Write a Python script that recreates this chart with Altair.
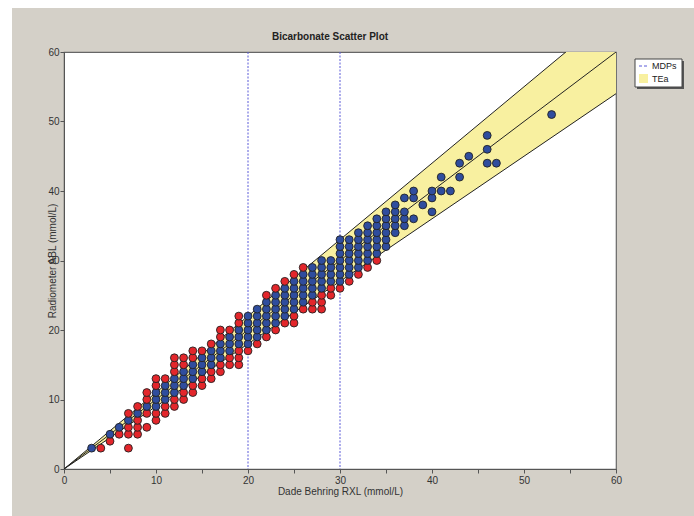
import altair as alt
import pandas as pd

# ---------------- data ----------------
dade_x = [3, 4, 5, 6, 7, 8, 9, 10, 11, 12, 13, 14, 15, 16, 17, 18, 19, 20,
          21, 22, 23, 24, 25, 26, 27, 28, 29, 30, 31, 32, 33, 34, 35, 36,
          37, 38, 39, 40, 41, 42, 43, 44, 46, 47, 53]
radiometer_y = [
    [3], [3], [4, 5], [5, 6], [3, 5, 6, 7, 8], [5, 6, 7, 8, 9],
    [6, 8, 9, 10, 11], [7, 8, 9, 10, 11, 12, 13], [8, 9, 10, 11, 12, 13],
    [9, 10, 11, 12, 13, 14, 15, 16], [10, 11, 12, 13, 14, 15, 16],
    [11, 12, 13, 14, 15, 16, 17], [12, 13, 14, 15, 16, 17],
    [13, 14, 15, 16, 17, 18], [14, 15, 16, 17, 18, 19, 20],
    [15, 16, 17, 18, 19, 20], [15, 16, 17, 18, 19, 20, 21, 22],
    [17, 18, 19, 20, 21, 22], [18, 19, 20, 21, 22, 23],
    [19, 20, 21, 22, 23, 24, 25], [20, 21, 22, 23, 24, 25, 26],
    [21, 22, 23, 24, 25, 26, 27], [21, 22, 23, 24, 25, 26, 27, 28],
    [23, 24, 25, 26, 27, 28, 29], [23, 24, 25, 26, 27, 28, 29],
    [23, 24, 25, 26, 27, 28, 29, 30], [25, 26, 27, 28, 29, 30],
    [26, 27, 28, 29, 30, 31, 32, 33], [27, 28, 29, 30, 31, 32, 33],
    [28, 29, 30, 31, 32, 33, 34], [29, 30, 31, 32, 33, 34, 35],
    [30, 31, 32, 33, 34, 35, 36], [32, 33, 34, 35, 36, 37],
    [34, 35, 36, 37, 38], [35, 36, 37, 39], [36, 39, 40], [38],
    [37, 39, 40], [40, 42], [40], [42, 44], [45], [44, 46, 48], [44], [51],
]
mdp_x = [20, 30]
tea_percent = 10
axis_max = 60
tick_values = [0, 2.5, 5, 7.5, 10, 12.5, 15, 17.5, 20, 22.5, 25, 27.5, 30,
               32.5, 35, 37.5, 40, 42.5, 45, 47.5, 50, 52.5, 55, 57.5, 60]
legend_labels = ["MDPs", "TEa"]
chart_title = "Bicarbonate Scatter Plot"

# ---------------- tables ----------------
rows = []
for xv, ys in zip(dade_x, radiometer_y):
    for yv in ys:
        inside = abs(yv - xv) <= xv * tea_percent / 100 + 1e-9
        rows.append({"x": xv, "y": yv, "status": "in" if inside else "out"})
pts = pd.DataFrame(rows)

band = pd.DataFrame({
    "x": [0, axis_max],
    "lo": [0, axis_max * (1 - tea_percent / 100)],
    "hi": [0, axis_max * (1 + tea_percent / 100)],
})
lines = pd.DataFrame([
    {"k": k, "x": xv, "y": xv * f}
    for k, f in [("lo", 1 - tea_percent / 100), ("mid", 1.0), ("hi", 1 + tea_percent / 100)]
    for xv in [0, axis_max]
])
mdp = pd.DataFrame({"x": mdp_x})
one = pd.DataFrame({"a": [0]})

W, H = 552, 417
FONT = "Liberation Sans"

xscale = alt.Scale(domain=[0, axis_max], nice=False, zero=False)
yscale = alt.Scale(domain=[0, axis_max], nice=False, zero=False)
label_expr = "datum.value % 10 == 0 ? datum.label : ''"

x_axis = alt.Axis(
    values=tick_values, labelExpr=label_expr, grid=False, tickSize=4,
    labelFlush=False, labelPadding=2, labelFontSize=10, labelColor="#333",
    domainColor="#555", tickColor="#555", title="Dade Behring RXL (mmol/L)",
    titleFontSize=10, titleFontWeight="normal", titleColor="#333",
    titleY=22, titleBaseline="middle", titleFont=FONT, labelFont=FONT,
)
y_axis = alt.Axis(
    values=tick_values, labelExpr=label_expr, grid=False, tickSize=4,
    labelFlush=False, labelPadding=1, labelFontSize=10, labelColor="#333",
    domainColor="#555", tickColor="#555", title="Radiometer ABL (mmol/L)",
    titleFontSize=10, titleFontWeight="normal", titleColor="#333",
    titleX=-12, titleY=H / 2, titleAngle=-90, titleAlign="center",
    titleBaseline="middle", titleFont=FONT, labelFont=FONT,
)

# decorative white strips of the window frame
strip_left = alt.Chart(one).mark_rect(color="white", clip=False).encode(
    x=alt.value(-64), x2=alt.value(-52), y=alt.value(-52), y2=alt.value(464))
strip_top = alt.Chart(one).mark_rect(color="white", clip=False).encode(
    x=alt.value(-64), x2=alt.value(630), y=alt.value(-52), y2=alt.value(-44))
title_text = alt.Chart(one).mark_text(
    text=chart_title, align="center", baseline="middle", fontSize=10,
    fontWeight="bold", font=FONT, color="#222", clip=False
).encode(x=alt.value(266), y=alt.value(-15))

area = alt.Chart(band).mark_area(color="#f8f0a0", clip=True, opacity=1).encode(
    x=alt.X("x:Q", scale=xscale, axis=x_axis),
    y=alt.Y("lo:Q", scale=yscale, axis=y_axis),
    y2="hi:Q",
)
tea_lines = alt.Chart(lines).mark_line(color="#222", strokeWidth=1, clip=True).encode(
    x=alt.X("x:Q", scale=xscale),
    y=alt.Y("y:Q", scale=yscale),
    detail="k:N",
)
mdp_rules = alt.Chart(mdp).mark_rule(color="#5a5ad8", strokeWidth=1, strokeDash=[2, 1.5]).encode(
    x=alt.X("x:Q", scale=xscale),
)
points = alt.Chart(pts).mark_point(
    filled=True, shape="circle", size=62, stroke="#222", strokeWidth=0.9, opacity=1
).encode(
    x=alt.X("x:Q", scale=xscale),
    y=alt.Y("y:Q", scale=yscale),
    fill=alt.Fill("status:N", scale=alt.Scale(domain=["in", "out"], range=["#2f4d9e", "#e3262b"]), legend=None),
)

# hand-made legend box
leg_shadow = alt.Chart(one).mark_rect(color="#555", clip=False).encode(
    x=alt.value(573), x2=alt.value(620), y=alt.value(9), y2=alt.value(37))
leg_box = alt.Chart(one).mark_rect(fill="white", stroke="#444", strokeWidth=1, clip=False).encode(
    x=alt.value(571), x2=alt.value(618), y=alt.value(7), y2=alt.value(35))
leg_dash = alt.Chart(one).mark_rule(color="#5a5ad8", strokeWidth=1, strokeDash=[3, 2], clip=False).encode(
    x=alt.value(575), x2=alt.value(584), y=alt.value(14))
leg_square = alt.Chart(one).mark_rect(color="#f8f0a0", clip=False).encode(
    x=alt.value(575), x2=alt.value(584), y=alt.value(22), y2=alt.value(31))
leg_text1 = alt.Chart(one).mark_text(
    text=legend_labels[0], align="left", baseline="middle", fontSize=9, font=FONT, color="#222", clip=False
).encode(x=alt.value(588), y=alt.value(14))
leg_text2 = alt.Chart(one).mark_text(
    text=legend_labels[1], align="left", baseline="middle", fontSize=9, font=FONT, color="#222", clip=False
).encode(x=alt.value(588), y=alt.value(27))

chart = alt.layer(
    area, strip_left, strip_top, title_text, tea_lines, mdp_rules, points,
    leg_shadow, leg_box, leg_dash, leg_square, leg_text1, leg_text2,
).properties(
    width=W, height=H,
    autosize=alt.AutoSizeParams(type="none"),
    padding={"left": 64, "top": 52, "right": 78, "bottom": 47},
    background="#d4d0c8",
).configure_view(fill="white", stroke="#666", strokeWidth=1.2)

chart.save("out.html", embed_options={"renderer": "svg", "actions": False})
